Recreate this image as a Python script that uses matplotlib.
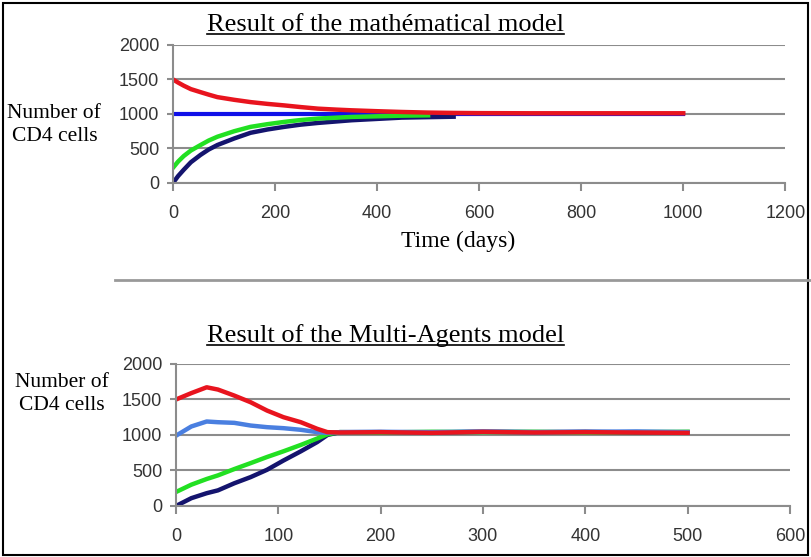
import matplotlib.pyplot as plt
from matplotlib.lines import Line2D
from matplotlib.patches import Rectangle

# top chart: mathematical model (days)
math_days = [0, 10, 21, 35, 54, 70, 87, 120, 152, 185, 218, 250, 284, 320, 350, 400, 448, 500, 550, 600, 700, 800, 900, 1000]
math_red = [1500, 1455, 1410, 1360, 1316, 1280, 1244, 1205, 1172, 1146, 1124, 1100, 1077, 1063, 1053, 1040, 1029, 1020, 1015, 1012, 1010, 1010, 1010, 1010]
math_blue_days = [0, 1000]
math_blue = [1000, 1000]
math_green_days = [0, 10, 21, 35, 54, 70, 87, 120, 152, 185, 218, 250, 284, 350, 448, 500]
math_green = [220, 310, 390, 470, 550, 615, 670, 750, 813, 852, 885, 912, 933, 957, 975, 980]
math_navy_days = [0, 10, 21, 35, 54, 70, 87, 120, 152, 185, 218, 250, 284, 350, 448, 550]
math_navy = [0, 100, 191, 300, 407, 485, 550, 645, 727, 775, 813, 845, 870, 909, 947, 960]

# bottom chart: multi-agents model
ma_days = [0, 15, 30, 41, 57, 73, 89, 105, 122, 138, 148, 160, 200, 250, 300, 350, 400, 450, 500]
ma_red = [1500, 1590, 1672, 1640, 1555, 1461, 1344, 1251, 1180, 1087, 1040, 1035, 1040, 1030, 1045, 1035, 1040, 1035, 1030]
ma_blue = [990, 1120, 1190, 1180, 1171, 1133, 1110, 1096, 1073, 1040, 1030, 1040, 1045, 1040, 1050, 1040, 1045, 1050, 1040]
ma_green = [197, 300, 380, 431, 520, 604, 690, 770, 860, 950, 1010, 1040, 1035, 1045, 1040, 1045, 1035, 1040, 1045]
ma_navy = [0, 110, 180, 220, 320, 407, 510, 640, 770, 900, 1000, 1040, 1040, 1035, 1045, 1040, 1045, 1035, 1040]

y_ticks = [0, 500, 1000, 1500, 2000]
serif = "Liberation Serif"
sans = "Liberation Sans"
grid_col = "#8c8c8c"

fig = plt.figure(figsize=(8.11, 5.57), dpi=100)


def style_axes(ax, xmax, xstep):
    ax.set_xlim(0, xmax)
    ax.set_ylim(0, 2000)
    ax.set_xticks(range(0, xmax + 1, xstep))
    ax.set_yticks(y_ticks)
    ax.grid(axis="y", color=grid_col, linewidth=1.5)
    ax.set_axisbelow(True)
    for s in ["top", "right"]:
        ax.spines[s].set_visible(False)
    for s in ["left", "bottom"]:
        ax.spines[s].set_color(grid_col)
        ax.spines[s].set_linewidth(1.5)
    ax.tick_params(axis="x", direction="out", length=6, width=1.5, color=grid_col,
                   labelsize=13, labelcolor="#333333", pad=10)
    ax.tick_params(axis="y", direction="out", length=4, width=1.5, color=grid_col,
                   labelsize=13, labelcolor="#333333", pad=6)
    for lab in ax.get_xticklabels() + ax.get_yticklabels():
        lab.set_family(sans)


ax1 = fig.add_axes([0.2133, 0.6715, 0.755, 0.2478])
style_axes(ax1, 1200, 200)
ax1.plot(math_blue_days, math_blue, color="#1010e8", lw=3)
ax1.plot(math_navy_days, math_navy, color="#14146e", lw=3.2)
ax1.plot(math_green_days, math_green, color="#22e022", lw=3.2)
ax1.plot(math_days, math_red, color="#e8141e", lw=3.2)

ax2 = fig.add_axes([0.217, 0.0916, 0.757, 0.2549])
style_axes(ax2, 600, 100)
ax2.plot(ma_days, ma_navy, color="#14146e", lw=3.2)
ax2.plot(ma_days, ma_green, color="#22e022", lw=3.2)
ax2.plot(ma_days, ma_blue, color="#4a7fe0", lw=3.2)
ax2.plot(ma_days, ma_red, color="#e8141e", lw=3.2)

t1 = fig.text(0.475, 0.955, "Result of the mathématical model", family=serif,
              fontsize=19, ha="center", va="center")
t2 = fig.text(0.475, 0.398, "Result of the Multi-Agents model", family=serif,
              fontsize=19, ha="center", va="center")
fig.text(0.067, 0.776, "Number of\nCD4 cells", family=serif, fontsize=15.5,
         ha="center", va="center", linespacing=1.3)
fig.text(0.076, 0.292, "Number of\nCD4 cells", family=serif, fontsize=15.5,
         ha="center", va="center", linespacing=1.3)
fig.text(0.565, 0.567, "Time (days)", family=serif, fontsize=17,
         ha="center", va="center")

# underline the two titles
fig.canvas.draw()
r = fig.canvas.get_renderer()
for t in [t1, t2]:
    bb = t.get_window_extent(r).transformed(fig.transFigure.inverted())
    fig.add_artist(Line2D([bb.x0, bb.x1], [bb.y0 + 0.004, bb.y0 + 0.004],
                          color="black", lw=1.2, transform=fig.transFigure))

# separator and frame
fig.add_artist(Line2D([0.142, 1.0], [0.497, 0.497], color="#999999", lw=2,
                      transform=fig.transFigure))
fig.add_artist(Rectangle((0.004, 0.003), 0.992, 0.992, fill=False, edgecolor="black",
                         lw=1.5, transform=fig.transFigure))

fig.savefig("out.png", dpi=100)
